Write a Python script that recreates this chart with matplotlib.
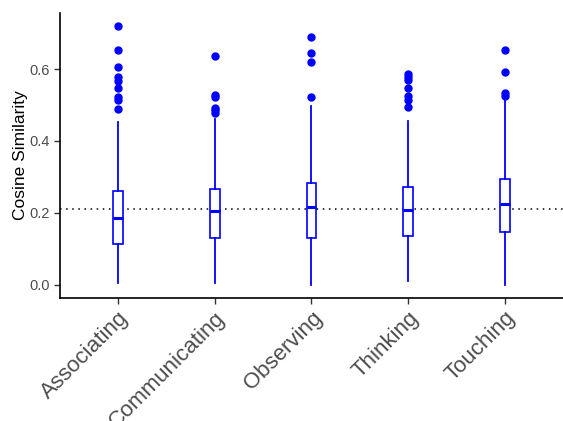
import matplotlib
matplotlib.use("Agg")
import matplotlib.pyplot as plt

#=======================================================
# Data (box statistics)
#=======================================================

categories = ["Associating", "Communicating", "Observing", "Thinking", "Touching"]
q1      = [0.112, 0.129, 0.131, 0.136, 0.146]
median  = [0.186, 0.204, 0.217, 0.208, 0.225]
q3      = [0.262, 0.265, 0.282, 0.271, 0.295]
whislo  = [0.005, 0.005, 0.000, 0.010, 0.000]
whishi  = [0.452, 0.461, 0.497, 0.455, 0.513]
fliers  = [
    [0.720, 0.653, 0.607, 0.579, 0.568, 0.547, 0.522, 0.514, 0.489],
    [0.637, 0.527, 0.522, 0.493, 0.486, 0.478],
    [0.690, 0.644, 0.621, 0.522],
    [0.585, 0.578, 0.571, 0.547, 0.524, 0.515, 0.495],
    [0.654, 0.593, 0.534, 0.525],
]
overall_mean = 0.210

#=======================================================
# Plot
#=======================================================

plt.rcParams['font.family'] = ['Liberation Sans', 'DejaVu Sans']

fig = plt.figure(figsize=(5.63, 4.21), dpi=100)
ax = fig.add_axes([0.1066, 0.293, 0.893, 0.676])

stats = []
for i, name in enumerate(categories):
    stats.append(dict(label=name, med=median[i], q1=q1[i], q3=q3[i],
                      whislo=whislo[i], whishi=whishi[i], fliers=fliers[i]))

pos = list(range(1, len(categories) + 1))
ax.bxp(stats, positions=pos, widths=0.1, showcaps=False, patch_artist=True,
       boxprops=dict(facecolor='white', edgecolor='blue', linewidth=1.2),
       whiskerprops=dict(color='blue', linewidth=1.3),
       medianprops=dict(color='blue', linewidth=2.2, solid_capstyle='butt'),
       flierprops=dict(marker='o', markerfacecolor='blue', markeredgecolor='blue',
                       markersize=5, linestyle='none'))

ax.axhline(overall_mean, color='black', linestyle=(0, (1, 3)), linewidth=1.1, zorder=0)

ax.set_xlim(0.4, 5.6)
ax.set_ylim(-0.036, 0.756)
ax.set_yticks([0.0, 0.2, 0.4, 0.6])
ax.set_yticklabels(["0.0", "0.2", "0.4", "0.6"])
ax.set_xticks(pos)
ax.set_xticklabels(categories, rotation=45, ha='right', rotation_mode='anchor')

ax.tick_params(axis='y', labelsize=10.5, labelcolor='#4D4D4D', color='#333333',
               length=4, width=1)
ax.tick_params(axis='x', labelsize=16, labelcolor='#4D4D4D', color='#333333',
               length=4, width=1, pad=3)
ax.set_ylabel("Cosine Similarity", fontsize=12.5, color='black', labelpad=1)

for s in ['top', 'right']:
    ax.spines[s].set_visible(False)
for s in ['left', 'bottom']:
    ax.spines[s].set_color('black')
    ax.spines[s].set_linewidth(1.2)

fig.savefig("out.png", dpi=100)
